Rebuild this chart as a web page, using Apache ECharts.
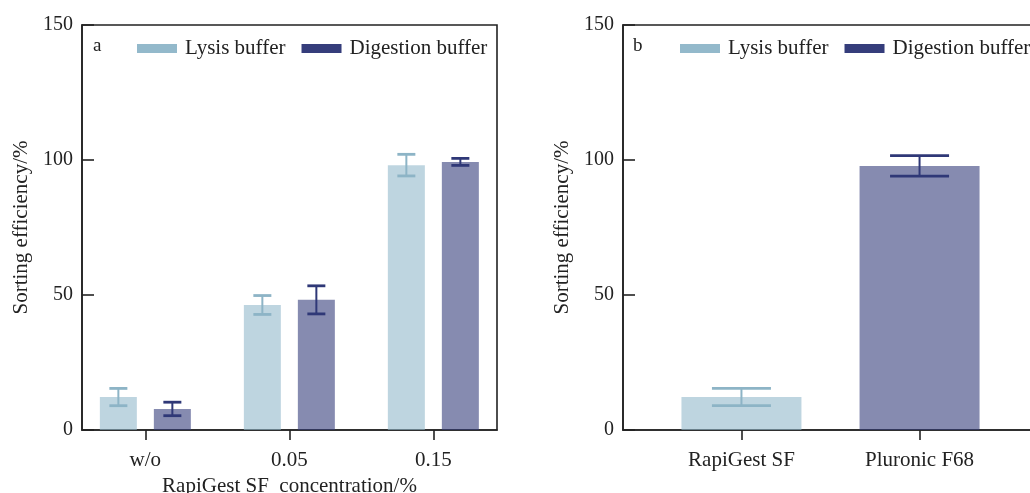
<!DOCTYPE html>
<html>
<head>
<meta charset="utf-8">
<script src="https://cdn.jsdelivr.net/npm/echarts@6/dist/echarts.min.js"></script>
<style>
html,body{margin:0;padding:0;background:#fff;}
#chart{width:1030px;height:493px;}
</style>
</head>
<body>
<div id="chart"></div>
<script>
// ---- data ----
const catsA = ['w/o', '0.05', '0.15'];
const lysisA = [12.2, 46.3, 98.1];
const lysisErrA = [3.2, 3.5, 4.0];
const digestA = [7.8, 48.2, 99.3];
const digestErrA = [2.5, 5.2, 1.3];

const catsB = ['RapiGest SF', 'Pluronic F68'];
const lysisB = [12.2, null];
const lysisErrB = [3.2, null];
const digestB = [null, 97.8];
const digestErrB = [null, 3.8];

const yTicks = [0, 50, 100, 150];
const seriesNames = ['Lysis buffer', 'Digestion buffer'];

// ---- style ----
const FONT = 'Liberation Serif';
const INK = '#222222';
const C_LYS = '#93b9cb';
const C_DIG = '#353d7b';
const C_LYS_ERR = '#8db4c6';
const C_DIG_ERR = '#2f3877';

const chart = echarts.init(document.getElementById('chart'), null, {renderer: 'canvas'});

function pts(vals) {
  const out = [];
  vals.forEach((v, i) => { if (v !== null) out.push([i, v]); });
  return out;
}
function errPts(vals, errs) {
  const out = [];
  vals.forEach((v, i) => { if (v !== null) out.push([i, v, errs[i]]); });
  return out;
}

function errRender(offsetPx, capW, color, lw) {
  return function (params, api) {
    const x = api.value(0), m = api.value(1), e = api.value(2);
    const top = api.coord([x, m + e]);
    const bot = api.coord([x, m - e]);
    const cx = top[0] + offsetPx;
    const st = {stroke: color, lineWidth: lw};
    return {
      type: 'group',
      children: [
        {type: 'line', shape: {x1: cx, y1: top[1], x2: cx, y2: bot[1]}, style: st},
        {type: 'line', shape: {x1: cx - capW / 2, y1: top[1], x2: cx + capW / 2, y2: top[1]}, style: {stroke: color, lineWidth: lw + 0.8}},
        {type: 'line', shape: {x1: cx - capW / 2, y1: bot[1], x2: cx + capW / 2, y2: bot[1]}, style: {stroke: color, lineWidth: lw + 0.8}}
      ]
    };
  };
}

function xAxisFor(gridIndex, cats, min, max, name) {
  const vals = cats.map((c, i) => i);
  return {
    type: 'value', gridIndex: gridIndex, min: min, max: max,
    splitLine: {show: false},
    axisLine: {show: true, onZero: false, lineStyle: {color: INK, width: 1.6}},
    axisTick: {show: true, inside: false, length: 10, customValues: vals, lineStyle: {color: INK, width: 1.6}},
    axisLabel: {
      customValues: vals, margin: 20, color: INK, fontFamily: FONT, fontSize: 21,
      formatter: function (v) { return cats[Math.round(v)]; }
    },
    name: name, nameLocation: 'middle', nameGap: 46,
    nameTextStyle: {color: INK, fontFamily: FONT, fontSize: 21}
  };
}
function yAxisFor(gridIndex) {
  return {
    type: 'value', gridIndex: gridIndex, min: yTicks[0], max: yTicks[yTicks.length - 1], interval: 50,
    splitLine: {show: false},
    axisLine: {show: true, onZero: false, lineStyle: {color: INK, width: 1.6}},
    axisTick: {show: true, inside: true, length: 12, lineStyle: {color: INK, width: 1.6}},
    axisLabel: {margin: 9, color: INK, fontFamily: FONT, fontSize: 20},
    name: 'Sorting efficiency/%', nameLocation: 'middle', nameGap: 50, nameRotate: 90,
    nameTextStyle: {color: INK, fontFamily: FONT, fontSize: 21}
  };
}

const legendData = [
  {name: seriesNames[0], itemStyle: {color: C_LYS, opacity: 1}},
  {name: seriesNames[1], itemStyle: {color: C_DIG, opacity: 1}}
];
function legendAt(left) {
  return {
    left: left, top: 38, width: 420, padding: 0, orient: 'horizontal',
    icon: 'rect', itemWidth: 40, itemHeight: 9, itemGap: 16,
    selectedMode: false,
    data: legendData,
    itemStyle: {opacity: 1},
    textStyle: {color: INK, fontFamily: FONT, fontSize: 21, padding: [0, 0, 0, 3]}
  };
}

const BW_A = 37, GAP_A = 17, BW_B = 120;

const option = {
  backgroundColor: '#ffffff',
  animation: false,
  title: [
    {text: 'a', left: 88, top: 32, textStyle: {color: INK, fontFamily: FONT, fontSize: 19, fontWeight: 'normal'}},
    {text: 'b', left: 628, top: 32, textStyle: {color: INK, fontFamily: FONT, fontSize: 19, fontWeight: 'normal'}}
  ],
  legend: [legendAt(137), legendAt(680)],
  grid: [
    {left: 82, top: 25, width: 415, height: 405, show: true, borderColor: INK, borderWidth: 1.6, backgroundColor: 'transparent', outerBoundsMode: 'none', containLabel: false},
    {left: 623, top: 25, width: 415, height: 405, show: true, borderColor: INK, borderWidth: 1.6, backgroundColor: 'transparent', outerBoundsMode: 'none', containLabel: false}
  ],
  xAxis: [
    xAxisFor(0, catsA, -0.44, 2.442, 'RapiGest SF  concentration/%'),
    xAxisFor(1, catsB, -0.665, 1.665, '')
  ],
  yAxis: [yAxisFor(0), yAxisFor(1)],
  series: [
    {name: seriesNames[0], type: 'bar', xAxisIndex: 0, yAxisIndex: 0, barWidth: BW_A, barGap: (GAP_A / BW_A * 100) + '%',
      itemStyle: {color: C_LYS, opacity: 0.6}, data: pts(lysisA)},
    {name: seriesNames[1], type: 'bar', xAxisIndex: 0, yAxisIndex: 0, barWidth: BW_A, barGap: (GAP_A / BW_A * 100) + '%',
      itemStyle: {color: C_DIG, opacity: 0.6}, data: pts(digestA)},
    {name: seriesNames[0], type: 'bar', xAxisIndex: 1, yAxisIndex: 1, barWidth: BW_B, barGap: '-100%',
      itemStyle: {color: C_LYS, opacity: 0.6}, data: pts(lysisB)},
    {name: seriesNames[1], type: 'bar', xAxisIndex: 1, yAxisIndex: 1, barWidth: BW_B, barGap: '-100%',
      itemStyle: {color: C_DIG, opacity: 0.6}, data: pts(digestB)},
    {type: 'custom', xAxisIndex: 0, yAxisIndex: 0, z: 5, renderItem: errRender(-(BW_A + GAP_A) / 2, 18, C_LYS_ERR, 2), data: errPts(lysisA, lysisErrA)},
    {type: 'custom', xAxisIndex: 0, yAxisIndex: 0, z: 5, renderItem: errRender((BW_A + GAP_A) / 2, 18, C_DIG_ERR, 2), data: errPts(digestA, digestErrA)},
    {type: 'custom', xAxisIndex: 1, yAxisIndex: 1, z: 5, renderItem: errRender(0, 59, C_LYS_ERR, 2), data: errPts(lysisB, lysisErrB)},
    {type: 'custom', xAxisIndex: 1, yAxisIndex: 1, z: 5, renderItem: errRender(0, 59, C_DIG_ERR, 2), data: errPts(digestB, digestErrB)}
  ]
};
chart.setOption(option);
</script>
</body>
</html>
